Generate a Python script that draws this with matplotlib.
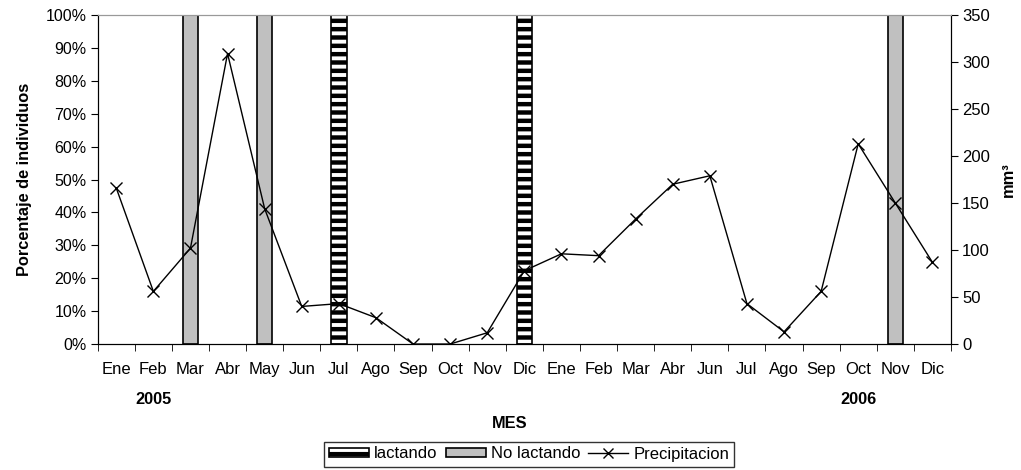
import numpy as np
import matplotlib
matplotlib.use("Agg")
import matplotlib.pyplot as plt
from matplotlib.lines import Line2D
from matplotlib.patches import Patch

plt.rcParams['font.family'] = ['Liberation Sans', 'DejaVu Sans']
plt.rcParams['hatch.linewidth'] = 3.2

meses = ['Ene', 'Feb', 'Mar', 'Abr', 'May', 'Jun', 'Jul', 'Ago', 'Sep', 'Oct', 'Nov', 'Dic',
         'Ene', 'Feb', 'Mar', 'Abr', 'Jun', 'Jul', 'Ago', 'Sep', 'Oct', 'Nov', 'Dic']

# porcentaje de individuos por mes
lactando = [0, 0, 0, 0, 0, 0, 100, 0, 0, 0, 0, 100,
            0, 0, 0, 0, 0, 0, 0, 0, 0, 0, 0]
no_lactando = [0, 0, 100, 0, 100, 0, 0, 0, 0, 0, 0, 0,
               0, 0, 0, 0, 0, 0, 0, 0, 0, 100, 0]

# precipitacion mensual (mm3)
precipitacion = [166, 56, 102, 309, 144, 40, 43, 28, 0, 0, 12, 78,
                 96, 94, 133, 170, 179, 43, 13, 56, 213, 150, 87]

x = np.arange(len(meses))
lact = np.array(lactando, dtype=float)
nolact = np.array(no_lactando, dtype=float)

fig = plt.figure(figsize=(10.21, 4.70), dpi=100)
ax = fig.add_axes([0.0957, 0.268, 0.8357, 0.700])

# solo los meses con registro
m = lact > 0
ax.bar(x[m], lact[m], width=0.42, color='white', edgecolor='black', hatch='--', linewidth=1.2)
m = nolact > 0
ax.bar(x[m], nolact[m], width=0.42, color='#c0c0c0', edgecolor='black', linewidth=1.2)

ax.set_xlim(-0.5, len(meses) - 0.5)
ax.set_ylim(0, 100)
ax.set_yticks(np.arange(0, 101, 10))
ax.set_yticklabels([f'{v}%' for v in range(0, 101, 10)], fontsize=11.5)
ax.set_xticks(x)
ax.set_xticklabels(meses, fontsize=12)
ax.set_xticks(np.arange(len(meses) + 1) - 0.5, minor=True)
ax.tick_params(axis='x', which='major', length=0, pad=13)
ax.tick_params(axis='x', which='minor', length=5, direction='out', color='black')
ax.tick_params(axis='y', length=5, direction='out', pad=3)
ax.set_ylabel('Porcentaje de individuos', fontsize=11.8, fontweight='bold', labelpad=10)

ax2 = ax.twinx()
ax2.plot(x, precipitacion, color='black', linewidth=1, marker='x', markersize=8,
         markeredgewidth=1)
ax2.set_ylim(0, 350)
ax2.set_yticks(np.arange(0, 351, 50))
ax2.tick_params(axis='y', length=5, direction='out', labelsize=12, pad=3)
ax2.set_ylabel('mm³', fontsize=11.8, fontweight='bold', labelpad=8)

for a in (ax, ax2):
    a.spines['top'].set_color('#999999')
    a.spines['left'].set_color('black')
    a.spines['right'].set_color('black')
    a.spines['bottom'].set_color('black')

fig.text(153 / 1021, 1 - 399 / 470, '2005', fontsize=11.8, fontweight='bold',
         ha='center', va='center')
fig.text(858 / 1021, 1 - 399 / 470, '2006', fontsize=11.8, fontweight='bold',
         ha='center', va='center')
fig.text(510 / 1021, 1 - 423 / 470, 'MES', fontsize=11.8, fontweight='bold',
         ha='center', va='center')

handles = [
    Patch(facecolor='white', edgecolor='black', hatch='--', linewidth=1.2),
    Patch(facecolor='#c0c0c0', edgecolor='black', linewidth=1.2),
    Line2D([], [], color='black', linewidth=1, marker='x', markersize=7),
]
leg = fig.legend(handles, ['lactando', 'No lactando', 'Precipitacion'],
                 loc='center', bbox_to_anchor=(529 / 1021, 1 - 454 / 470), ncol=3,
                 fontsize=12, frameon=True, fancybox=False, edgecolor='black',
                 handlelength=2.4, handleheight=0.5, handletextpad=0.3,
                 columnspacing=0.5, borderpad=0.3)
leg.get_frame().set_linewidth(1)

fig.savefig('out.png', dpi=100)
